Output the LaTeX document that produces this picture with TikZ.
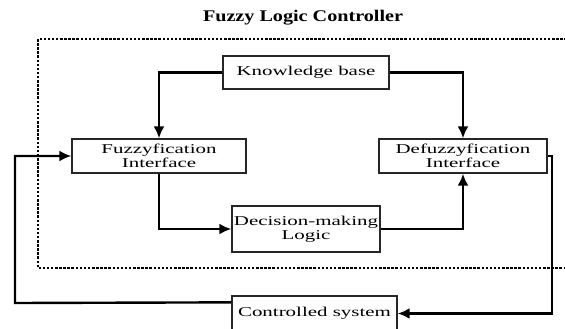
\documentclass[tikz,border=0pt]{standalone}
\usepackage{fontspec}
\setmainfont{Liberation Serif}
\usetikzlibrary{arrows.meta}
\newcommand{\wtxt}[1]{\scalebox{1.55}[1]{#1}}
\begin{document}
\begin{tikzpicture}[x=1pt,y=-1pt,
  box/.style={draw=black!85, line width=1.3pt, rectangle, inner sep=0pt, align=center,
    font=\fontsize{13.5}{14}\selectfont},
  conn/.style={line width=2.4pt, -{Latex[length=12pt,width=11pt]}},
  frame/.style={line width=1.8pt, dash pattern=on 2.5pt off 1.6pt},
  ]
\clip (0,0) rectangle (565,329);
\node[font=\bfseries\fontsize{15.5}{16}\selectfont] (title) at (303,18) {\scalebox{1.3}[1.05]{Fuzzy Logic Controller}};
\coordinate (f1) at (575,39);
\coordinate (f2) at (38,39);
\coordinate (f3) at (38,268);
\coordinate (f4) at (575,268);
\draw[frame] (f1) -- (f2) -- (f3) -- (f4);

\node[box, minimum width=166pt, minimum height=33pt] (kb) at (306,72.5) {\wtxt{Knowledge base}};
\node[box, minimum width=174pt, minimum height=34pt] (fuzz) at (159,156) {\wtxt{Fuzzyfication}\\\wtxt{Interface}};
\node[box, minimum width=168pt, minimum height=34pt] (defuzz) at (463,156) {\wtxt{Defuzzyfication}\\\wtxt{Interface}};
\node[box, minimum width=148pt, minimum height=46pt] (dec) at (306,229) {\wtxt{Decision-making}\\\wtxt{Logic}};
\node[box, minimum width=165pt, minimum height=35pt] (ctrl) at (314.5,313.5) {\wtxt{Controlled system}};

\coordinate (rc) at (552,156);
\coordinate (lc) at (15,303);

\draw[conn] (kb.west) -| (fuzz.north);
\draw[conn] (kb.east) -| (defuzz.north);
\draw[conn] (fuzz.south) |- (dec.west);
\draw[conn] (dec.east) -| (defuzz.south);
\draw[conn] (defuzz.east) -- (rc) |- (ctrl.east);
\draw[conn] ([yshift=-7pt]ctrl.north west) -- (lc) |- (fuzz.west);
\end{tikzpicture}
\end{document}
